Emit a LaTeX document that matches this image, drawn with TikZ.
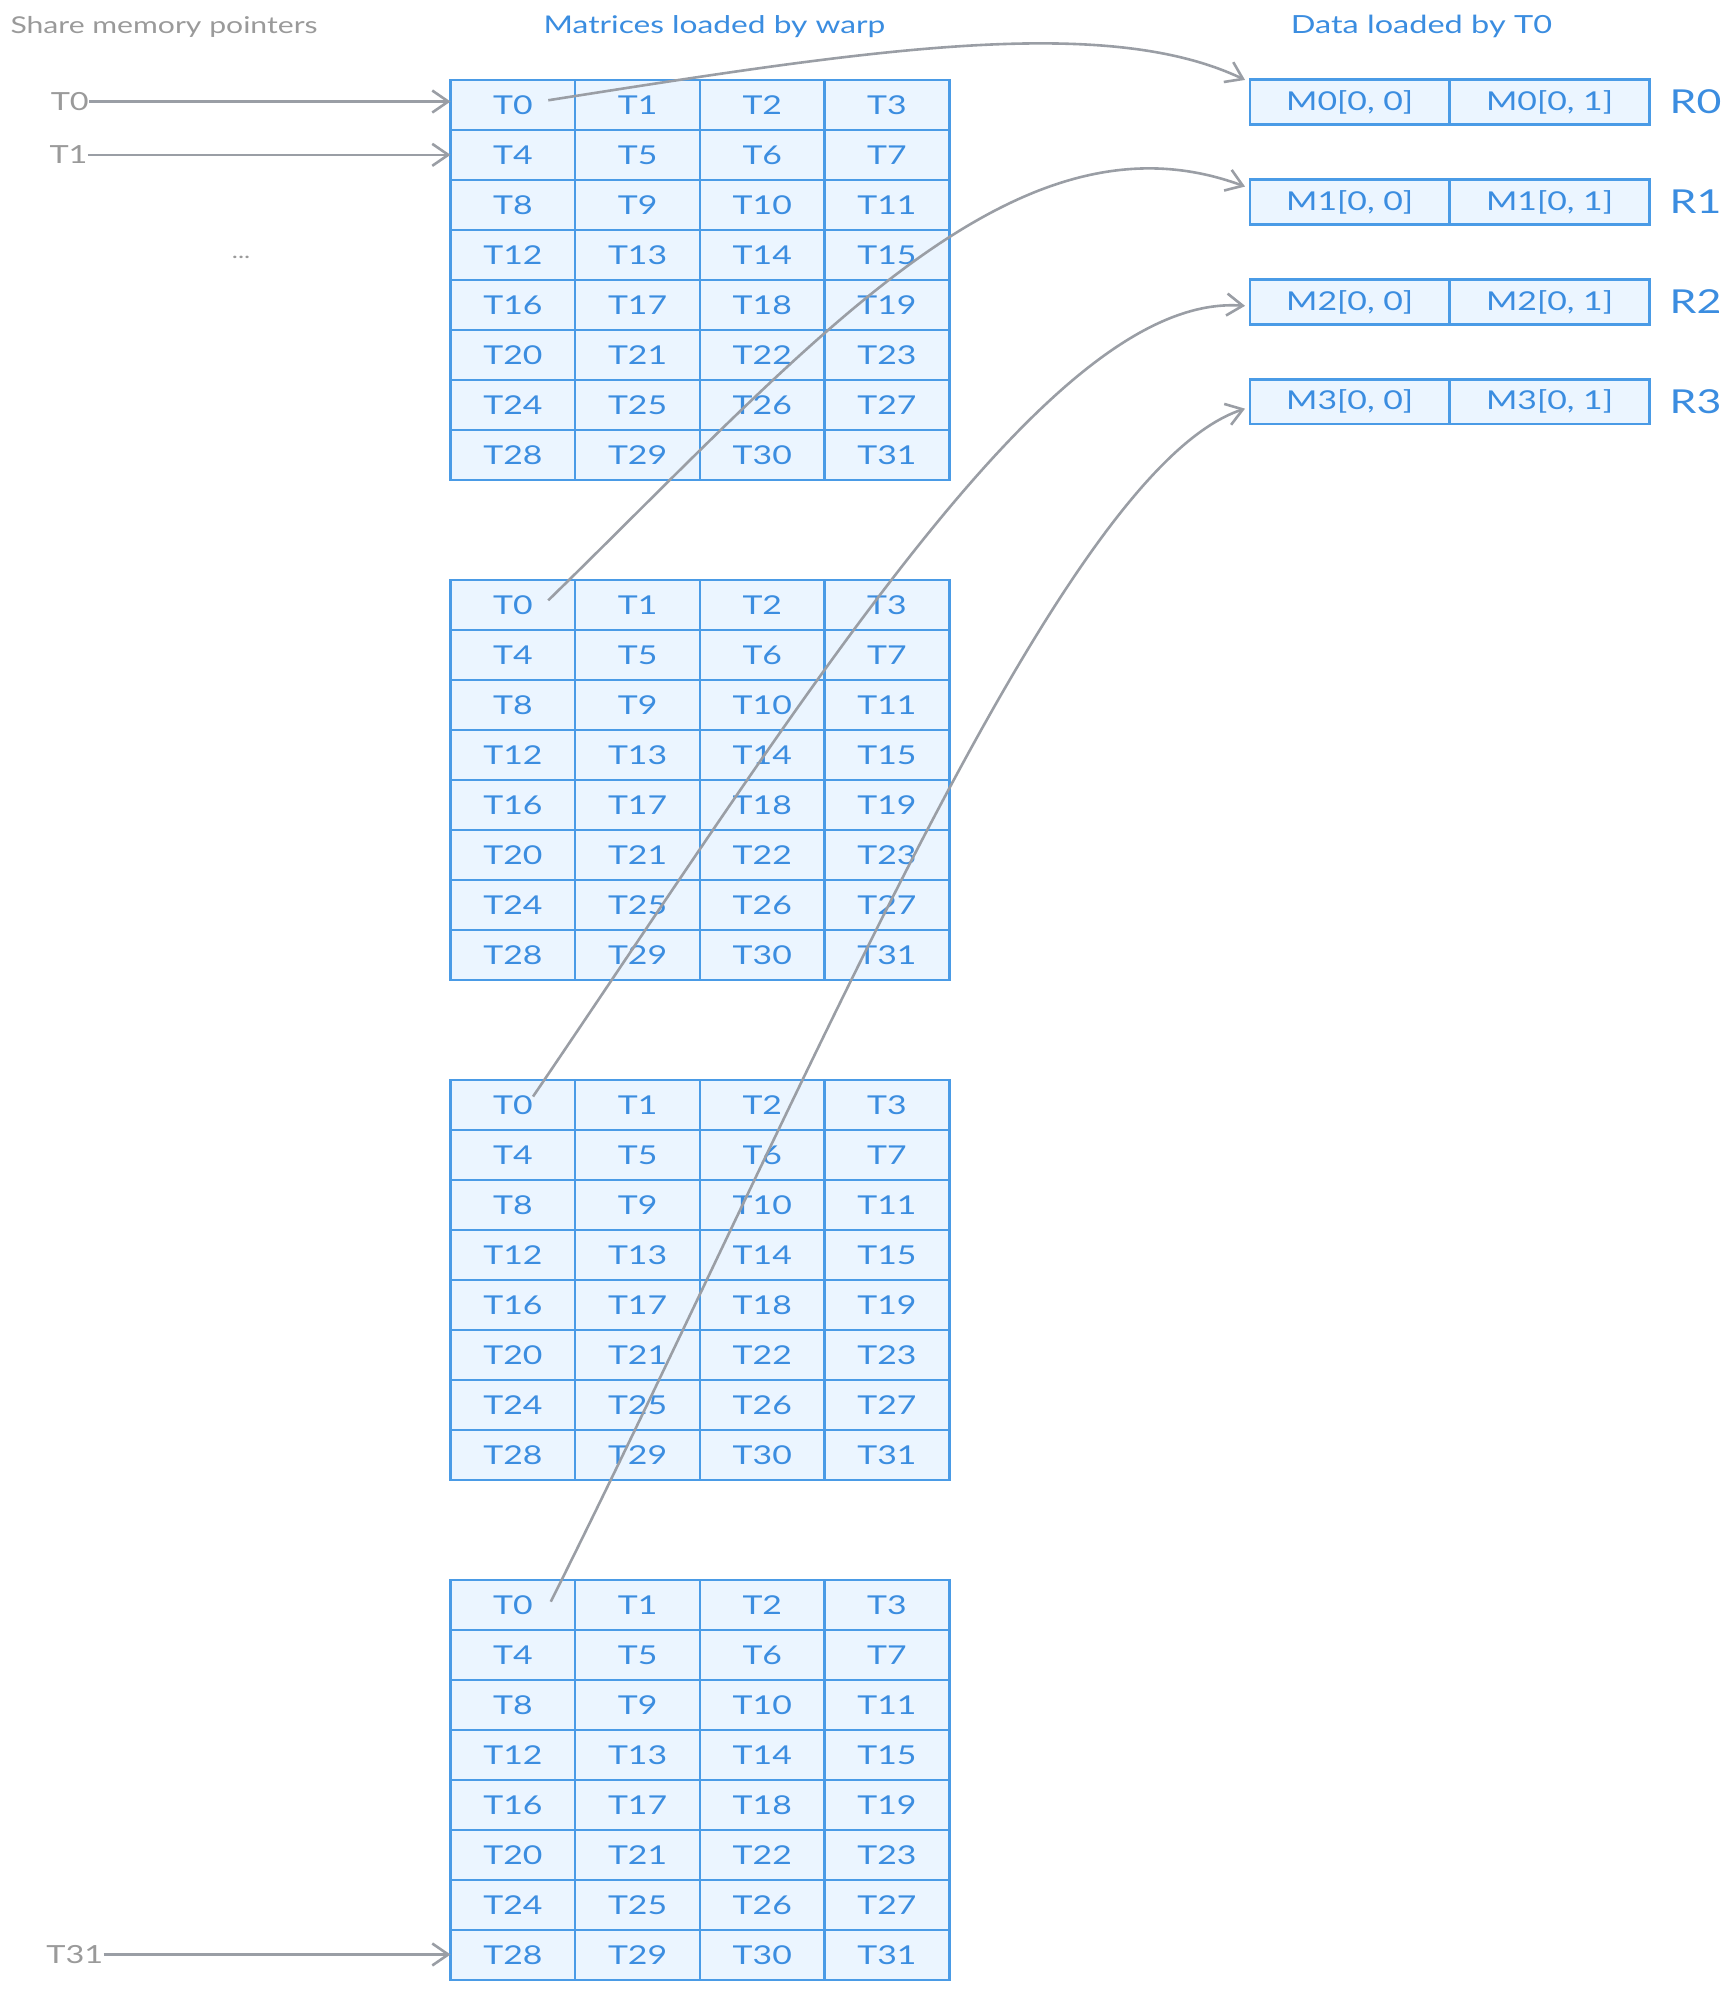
\documentclass[tikz,border=0pt]{standalone}
\usepackage{fontspec}
\setmainfont{Lato}[FakeStretch=1.3]
\usetikzlibrary{arrows.meta}
\definecolor{bstroke}{HTML}{4A9BE6}
\definecolor{bfill}{HTML}{EBF5FF}
\definecolor{btext}{HTML}{3B8DE0}
\definecolor{gline}{HTML}{9A9EA5}
\definecolor{gtext}{HTML}{9A9A9A}
\begin{document}
\begin{tikzpicture}[x=0.635pt,y=-0.635pt,
  cell/.style={draw=bstroke, fill=bfill, line width=1.2pt, minimum width=62.39pt,
    minimum height=25pt, inner sep=0pt, outer sep=0pt, text=btext,
    font=\fontsize{13}{15}\selectfont},
  reg/.style={cell, minimum width=100pt, minimum height=22.5pt},
  ptr/.style={text=gtext, font=\fontsize{12.5}{15}\selectfont, inner sep=0pt},
  title/.style={font=\fontsize{12.5}{15}\selectfont, inner sep=0pt},
  rlabel/.style={text=btext, font=\fontsize{16.5}{19}\selectfont, inner sep=0pt},
  link/.style={draw=gline, line width=1.3pt, -{Straight Barb[length=8pt,width=11pt]}}
]
\useasboundingbox (0,0) rectangle (1364,1568);

% titles
\node[title, text=gtext, anchor=west, font=\fontsize{11.6}{14}\selectfont] (tshare) at (8,21) {Share memory pointers};
\node[title, text=btext, font=\fontsize{12.2}{15}\selectfont] (tmat) at (563,21) {Matrices loaded by warp};
\node[title, text=btext] (tdata) at (1120,21) {Data loaded by T0};

% thread grids
\foreach \k/\top in {1/63,2/457,3/851,4/1245} {
  \foreach \n in {0,...,31} {
    \pgfmathtruncatemacro\rr{int(\n/4)}
    \pgfmathtruncatemacro\cc{mod(\n,4)}
    \node[cell] (g\k-\n) at ({355+98.25*(\cc+0.5)},{\top+39.375*(\rr+0.5)}) {T\n};
  }
}

% register boxes
\foreach \r/\y in {0/80.5,1/159.2,2/237.9,3/316.6} {
  \node[reg] (m\r-a) at (1063.5,\y) {M\r[0, 0]};
  \node[reg] (m\r-b) at (1221,\y) {M\r[0, 1]};
  \node[rlabel] (R\r) at (1336,\y) {R\r};
}

% pointer labels
\node[ptr] (p0) at (55,80) {T0};
\node[ptr] (p1) at (54,122) {T1};
\node[ptr, font=\fontsize{10}{12}\selectfont] (pdots) at (190,203) {...};
\node[ptr] (p31) at (59,1540) {T31};

\draw[link] (p0.east) -- (p0.east -| g1-0.west);
\draw[link] (p1.east) -- (p1.east -| g1-4.west);
\draw[link] (p31.east) -- (p31.east -| g4-28.west);

% curves from T0 cells to registers
\coordinate (s1) at (432,79);   \coordinate (e1) at (981,63);
\coordinate (s2) at (432,473);  \coordinate (e2) at (981,147);
\coordinate (s3) at (420,864);  \coordinate (e3) at (981,241);
\coordinate (s4) at (434,1262); \coordinate (e4) at (981,322);

\draw[link] (s1) .. controls (680,40) and (870,10) .. (e1);
\draw[link] (s2) .. controls (640,270) and (800,80) .. (e2);
\draw[link] (s3) .. controls (640,540) and (830,230) .. (e3);
\draw[link] (s4) .. controls (634,862) and (835,370) .. (e4);
\end{tikzpicture}
\end{document}
